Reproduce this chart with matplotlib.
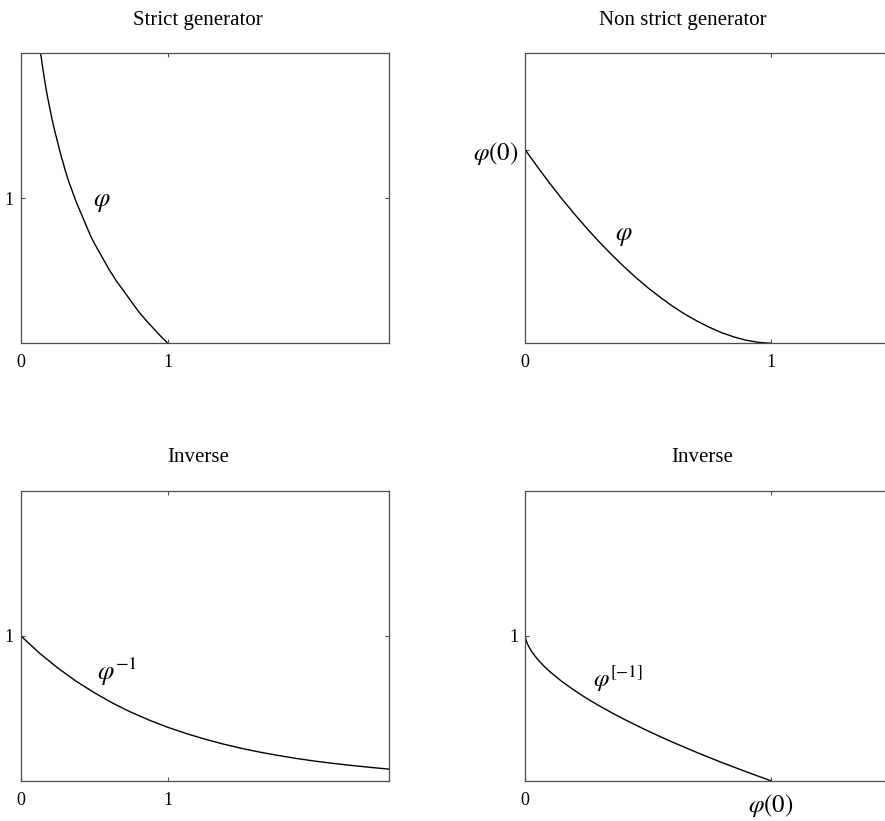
import matplotlib

matplotlib.use("Agg")
import matplotlib.pyplot as plt

# Strict generator
strict_t = [0.135, 0.14, 0.145, 0.15, 0.16, 0.17, 0.175, 0.18, 0.19, 0.2, 0.21,
            0.225, 0.24, 0.25, 0.26, 0.275, 0.29, 0.3, 0.325, 0.35, 0.375, 0.4,
            0.425, 0.45, 0.475, 0.5, 0.55, 0.6, 0.65, 0.7, 0.75, 0.8, 0.85,
            0.9, 0.95, 1.0]
strict_phi = [2.0, 1.97, 1.93, 1.90, 1.83, 1.77, 1.74, 1.71, 1.66, 1.61, 1.56,
              1.49, 1.43, 1.39, 1.35, 1.29, 1.24, 1.20, 1.12, 1.05, 0.98, 0.92,
              0.86, 0.80, 0.74, 0.69, 0.60, 0.51, 0.43, 0.36, 0.29, 0.22, 0.16,
              0.105, 0.05, 0.0]

# Non strict generator, y in units of phi(0)
nonstrict_t = [0.0, 0.05, 0.1, 0.15, 0.2, 0.25, 0.3, 0.35, 0.4, 0.45, 0.5,
               0.55, 0.6, 0.65, 0.7, 0.75, 0.8, 0.85, 0.9, 0.95, 1.0]
nonstrict_phi = [1.0, 0.912, 0.827, 0.746, 0.669, 0.596, 0.526, 0.461, 0.399,
                 0.341, 0.287, 0.238, 0.192, 0.151, 0.115, 0.083, 0.055, 0.033,
                 0.016, 0.005, 0.0]

# Inverse of the strict generator
inverse_s = [0.0, 0.125, 0.25, 0.375, 0.5, 0.625, 0.75, 0.875, 1.0, 1.125, 1.25,
             1.375, 1.5, 1.625, 1.75, 1.875, 2.0, 2.125, 2.25, 2.375, 2.5]
inverse_phi = [1.0, 0.882, 0.779, 0.687, 0.607, 0.535, 0.472, 0.417, 0.368,
               0.325, 0.287, 0.253, 0.223, 0.197, 0.174, 0.153, 0.135, 0.119,
               0.105, 0.092, 0.08]

# Pseudo inverse, s in units of phi(0)
pseudo_s = [0.0, 0.002, 0.005, 0.01, 0.025, 0.05, 0.075, 0.1, 0.15, 0.2, 0.25,
            0.3, 0.35, 0.4, 0.45, 0.5, 0.55, 0.6, 0.65, 0.7, 0.75, 0.8, 0.85,
            0.9, 0.95, 1.0]
pseudo_phi = [1.0, 0.977, 0.960, 0.939, 0.893, 0.837, 0.792, 0.752, 0.683,
              0.623, 0.568, 0.518, 0.471, 0.426, 0.384, 0.343, 0.304, 0.266,
              0.230, 0.194, 0.160, 0.126, 0.094, 0.062, 0.031, 0.0]

W, H = 885, 821
SPINE = "0.3"


def make_axes(fig, left, top, width, height):
    ax = fig.add_axes([left / W, 1 - (top + height) / H, width / W, height / H])
    for sp in ax.spines.values():
        sp.set_color(SPINE)
        sp.set_linewidth(0.9)
    ax.tick_params(direction="in", top=True, right=True, length=3,
                   width=0.8, color=SPINE, labelsize=13)
    ax.tick_params(axis="x", pad=8)
    ax.tick_params(axis="y", pad=5)
    return ax


def main():
    plt.rcParams["font.family"] = ["Liberation Serif", "DejaVu Serif"]
    plt.rcParams["mathtext.fontset"] = "stix"

    fig = plt.figure(figsize=(W / 100, H / 100), dpi=100)

    # Strict generator
    ax1 = make_axes(fig, 20.7, 53.3, 368, 290)
    ax1.plot(strict_t, strict_phi, color="k", lw=1.0)
    ax1.set_xlim(0, 2.5)
    ax1.set_ylim(0, 2)
    ax1.set_xticks([0, 1], ["0", "1"])
    ax1.set_yticks([1], ["1"])
    ax1.text(0.554, 0.97, r"$\varphi$", fontsize=19, ha="center", va="center")

    # Non strict generator
    ax2 = make_axes(fig, 525.3, 53.3, 368, 290)
    ax2.plot(nonstrict_t, nonstrict_phi, color="k", lw=1.0)
    ax2.set_xlim(0, 1.5)
    ax2.set_ylim(0, 1.5)
    ax2.set_xticks([0, 1], ["0", "1"])
    ax2.set_yticks([1], [r"$\varphi(0)$"])
    ax2.tick_params(axis="y", labelsize=18)
    ax2.text(0.403, 0.55, r"$\varphi$", fontsize=19, ha="center", va="center")

    # Inverse
    ax3 = make_axes(fig, 20.7, 490.7, 368, 290)
    ax3.plot(inverse_s, inverse_phi, color="k", lw=1.0)
    ax3.set_xlim(0, 2.5)
    ax3.set_ylim(0, 2)
    ax3.set_xticks([0, 1], ["0", "1"])
    ax3.set_yticks([1], ["1"])
    ax3.text(0.52, 0.75, r"$\varphi^{-1}$", fontsize=19, ha="left", va="center")

    # Pseudo inverse
    ax4 = make_axes(fig, 525.3, 490.7, 368, 290)
    ax4.plot(pseudo_s, pseudo_phi, color="k", lw=1.0)
    ax4.set_xlim(0, 1.5)
    ax4.set_ylim(0, 2)
    ax4.set_xticks([0, 1], ["0", r"$\varphi(0)$"])
    ax4.set_yticks([1], ["1"])
    ax4.get_xticklabels()[1].set_fontsize(18)
    ax4.text(0.277, 0.70, r"$\varphi^{[-1]}$", fontsize=18, ha="left", va="center")

    # Titles sit a bit off the axes centres in the original
    fig.text(197.8 / W, 1 - 25 / H, "Strict generator", fontsize=15, ha="center",
             va="baseline")
    fig.text(682.5 / W, 1 - 25 / H, "Non strict generator", fontsize=15,
             ha="center", va="baseline")
    fig.text(198.5 / W, 1 - 462.4 / H, "Inverse", fontsize=15, ha="center",
             va="baseline")
    fig.text(701.7 / W, 1 - 462.4 / H, "Inverse", fontsize=15, ha="center",
             va="baseline")

    fig.savefig("out.png", dpi=100)


if __name__ == "__main__":
    main()
